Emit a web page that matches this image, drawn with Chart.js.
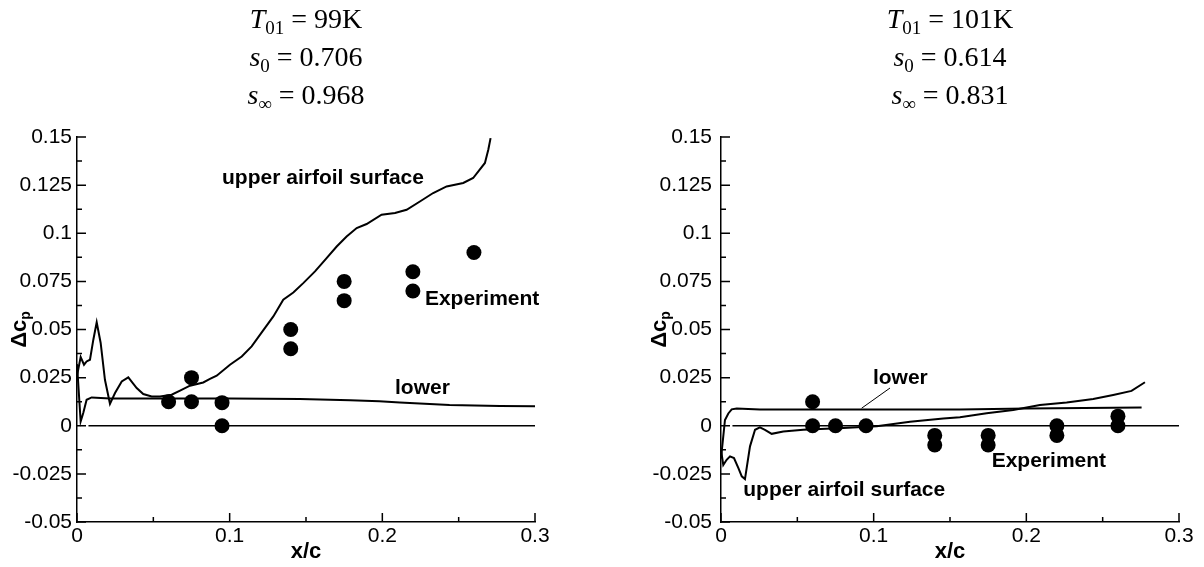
<!DOCTYPE html>
<html>
<head>
<meta charset="utf-8">
<script src="https://cdn.jsdelivr.net/npm/chart.js@4.4.0/dist/chart.umd.min.js"></script>
<style>
  body { margin: 0; background: #fff; width: 1204px; height: 567px; position: relative; overflow: hidden; }
  .panel { position: absolute; top: 0; height: 567px; }
  .head { position: absolute; top: 0; width: 300px; text-align: center; color: #000;
          font-family: "Liberation Serif", "DejaVu Serif", serif; font-size: 28px; line-height: 38px; }
  .head sub { font-size: 19px; vertical-align: -6px; line-height: 0; }
</style>
</head>
<body>
<div class="panel" style="left:0;width:640px">
  <canvas id="left" width="640" height="567"></canvas>
  <div class="head" id="headLeft" style="left:156px"></div>
</div>
<div class="panel" style="left:640px;width:564px">
  <canvas id="right" width="564" height="567"></canvas>
  <div class="head" id="headRight" style="left:160px"></div>
</div>
<script>
// axes
const xTicks = [0, 0.1, 0.2, 0.3];
const xTickLabels = ["0", "0.1", "0.2", "0.3"];
const yTicks = [-0.05, -0.025, 0, 0.025, 0.05, 0.075, 0.1, 0.125, 0.15];
const yTickLabels = ["-0.05", "-0.025", "0", "0.025", "0.05", "0.075", "0.1", "0.125", "0.15"];

// headers
const leftHeader = ["99K", "0.706", "0.968"];
const rightHeader = ["101K", "0.614", "0.831"];

// left panel (T01 = 99K)
const leftUpperX = [0, 0.0024, 0.0046, 0.0063, 0.0085, 0.0107, 0.0129, 0.0155, 0.0183, 0.0216, 0.0249, 0.0293,
  0.0336, 0.0391, 0.0434, 0.0489, 0.0544, 0.062, 0.0675, 0.074, 0.0827, 0.0871, 0.0915, 0.1002, 0.1079, 0.1144,
  0.121, 0.1286, 0.1351, 0.1417, 0.1482, 0.1559, 0.1635, 0.1701, 0.1766, 0.1832, 0.1897, 0.1995, 0.2083, 0.2159,
  0.2246, 0.2333, 0.2421, 0.253, 0.2595, 0.2672, 0.2694, 0.2709];
const leftUpperY = [0.026, 0.0357, 0.0317, 0.0334, 0.0343, 0.0447, 0.0537, 0.043, 0.0239, 0.0114, 0.017, 0.023,
  0.0251, 0.0196, 0.0165, 0.0152, 0.0152, 0.0161, 0.0183, 0.0208, 0.0225, 0.0243, 0.026, 0.0317, 0.036, 0.0412,
  0.0485, 0.0568, 0.0655, 0.0692, 0.0741, 0.0802, 0.0871, 0.0931, 0.0983, 0.1027, 0.1048, 0.1096, 0.1105, 0.1122,
  0.1165, 0.1209, 0.1243, 0.1261, 0.1287, 0.1365, 0.1434, 0.1494];
const leftLowerX = [0, 0.0024, 0.0041, 0.0063, 0.0096, 0.0216, 0.06, 0.1, 0.146, 0.179, 0.198, 0.2115, 0.244, 0.277, 0.3];
const leftLowerY = [0.032, 0.0022, 0.0066, 0.0135, 0.0147, 0.0142, 0.0142, 0.0141, 0.0139, 0.0132, 0.0127, 0.0121, 0.0108, 0.0102, 0.0101];
const leftExpX = [0.06, 0.075, 0.075, 0.095, 0.095, 0.14, 0.14, 0.175, 0.175, 0.22, 0.22, 0.26];
const leftExpY = [0.0125, 0.025, 0.0125, 0.012, 0, 0.05, 0.04, 0.075, 0.065, 0.08, 0.07, 0.09];

// right panel (T01 = 101K)
const rightUpperX = [0, 0.0015, 0.0037, 0.0059, 0.0085, 0.0114, 0.0136, 0.0157, 0.019, 0.0223, 0.0255, 0.0288,
  0.0332, 0.0408, 0.0539, 0.0801, 0.102, 0.1238, 0.1456, 0.1565, 0.174, 0.1914, 0.2089, 0.2264, 0.2438, 0.2569,
  0.2689, 0.2777];
const rightUpperY = [-0.0125, -0.0204, -0.0177, -0.0159, -0.0168, -0.022, -0.0263, -0.0277, -0.0107, -0.0021,
  -0.0008, -0.0021, -0.0042, -0.003, -0.0021, -0.0012, -0.0003, 0.0021, 0.0038, 0.0044, 0.0065, 0.0082, 0.0108,
  0.0121, 0.0139, 0.016, 0.0181, 0.0226];
const rightLowerX = [0, 0.0026, 0.0048, 0.007, 0.0103, 0.0255, 0.0583, 0.102, 0.1565, 0.2, 0.2755];
const rightLowerY = [-0.017, 0.003, 0.0064, 0.0085, 0.009, 0.0085, 0.0085, 0.0085, 0.0085, 0.009, 0.0095];
const rightExpX = [0.06, 0.06, 0.075, 0.095, 0.14, 0.14, 0.175, 0.175, 0.22, 0.22, 0.26, 0.26];
const rightExpY = [0.0125, 0, 0, 0, -0.005, -0.01, -0.005, -0.01, 0, -0.005, 0.005, 0];
const rightLeaderX = [0.0921, 0.1107];
const rightLeaderY = [0.0091, 0.0196];

// zero reference line
const zeroX = [0.0075, 0.3];
const zeroY = [0, 0];

const pts = (xs, ys) => xs.map((x, i) => ({ x: x, y: ys[i] }));

function header(el, vals) {
  el.innerHTML =
    '<i>T</i><sub>01</sub> = ' + vals[0] + '<br>' +
    '<i>s</i><sub>0</sub> = ' + vals[1] + '<br>' +
    '<i>s</i><sub>∞</sub> = ' + vals[2];
}
header(document.getElementById("headLeft"), leftHeader);
header(document.getElementById("headRight"), rightHeader);

const decor = {
  id: "decor",
  afterDraw(chart, args, opts) {
    const { ctx, chartArea: a, scales: { x, y } } = chart;
    ctx.save();
    ctx.strokeStyle = "#000";
    ctx.lineWidth = 1.5;
    ctx.beginPath();
    for (let i = 0; i <= 6; i++) {
      const px = x.getPixelForValue(i * 0.05);
      const len = i % 2 === 0 ? 9 : 5;
      ctx.moveTo(px, a.bottom);
      ctx.lineTo(px, a.bottom - len);
    }
    for (let i = 0; i <= 16; i++) {
      const py = y.getPixelForValue(-0.05 + i * 0.0125);
      const len = i % 2 === 0 ? 9 : 5;
      ctx.moveTo(a.left, py);
      ctx.lineTo(a.left + len, py);
    }
    ctx.stroke();

    // annotations
    ctx.fillStyle = "#000";
    ctx.textBaseline = "middle";
    ctx.textAlign = "left";
    ctx.font = "bold 21px 'Liberation Sans', Arial, sans-serif";
    opts.notes.forEach(n => {
      ctx.fillText(n.text, x.getPixelForValue(n.x), y.getPixelForValue(n.y));
    });

    // x title
    ctx.textAlign = "center";
    ctx.font = "bold 22px 'Liberation Sans', Arial, sans-serif";
    ctx.fillText("x/c", (a.left + a.right) / 2, 552);

    // y title: Δc with subscript p
    ctx.translate(20, (a.top + a.bottom) / 2);
    ctx.rotate(-Math.PI / 2);
    ctx.textAlign = "left";
    ctx.font = "bold 22px 'Liberation Sans', Arial, sans-serif";
    const w1 = ctx.measureText("Δc").width;
    ctx.font = "bold 14px 'Liberation Sans', Arial, sans-serif";
    const w2 = ctx.measureText("p").width;
    const start = -(w1 + w2) / 2;
    ctx.font = "bold 22px 'Liberation Sans', Arial, sans-serif";
    ctx.fillText("Δc", start, 0);
    ctx.font = "bold 14px 'Liberation Sans', Arial, sans-serif";
    ctx.fillText("p", start + w1, 6);
    ctx.restore();
  }
};

function makeChart(id, datasets, notes, padRight, axisLeft, labelGap) {
  return new Chart(document.getElementById(id), {
    type: "scatter",
    data: { datasets: datasets },
    options: {
      responsive: false,
      animation: false,
      layout: { padding: { top: 137, right: padRight, left: 0, bottom: 0 } },
      plugins: { legend: { display: false }, tooltip: { enabled: false }, decor: { notes: notes } },
      scales: {
        x: {
          type: "linear", min: 0, max: 0.3,
          afterBuildTicks: s => { s.ticks = xTicks.map(v => ({ value: v })); },
          afterFit: s => { s.height = 45; },
          ticks: { callback: (v, i) => xTickLabels[i], color: "#000", padding: 2, maxRotation: 0, autoSkip: false,
                   font: { family: "'Liberation Sans', Arial, sans-serif", size: 21 } },
          grid: { display: false, drawTicks: false },
          border: { color: "#000", width: 1.5 }
        },
        y: {
          type: "linear", min: -0.05, max: 0.15,
          afterBuildTicks: s => { s.ticks = yTicks.map(v => ({ value: v })); },
          afterFit: s => { s.width = axisLeft; },
          ticks: { callback: (v, i) => yTickLabels[i], color: "#000", padding: labelGap, autoSkip: false,
                   font: { family: "'Liberation Sans', Arial, sans-serif", size: 21 } },
          grid: { display: false, drawTicks: false },
          border: { color: "#000", width: 1.5 }
        }
      }
    },
    plugins: [decor]
  });
}

const lineStyle = { showLine: true, pointRadius: 0, borderColor: "#000", borderWidth: 2, fill: false };
const dotStyle = { showLine: false, pointRadius: 7.5, pointBackgroundColor: "#000", pointBorderWidth: 0 };

makeChart("left", [
  Object.assign({ label: "zero", data: pts(zeroX, zeroY) }, lineStyle, { borderWidth: 1.5 }),
  Object.assign({ label: "upper airfoil surface", data: pts(leftUpperX, leftUpperY) }, lineStyle),
  Object.assign({ label: "lower", data: pts(leftLowerX, leftLowerY) }, lineStyle),
  Object.assign({ label: "Experiment", data: pts(leftExpX, leftExpY) }, dotStyle)
], [
  { text: "upper airfoil surface", x: 0.095, y: 0.1288 },
  { text: "Experiment", x: 0.2279, y: 0.0655 },
  { text: "lower", x: 0.2083, y: 0.0197 }
], 105, 77, 5);

makeChart("right", [
  Object.assign({ label: "zero", data: pts(zeroX, zeroY) }, lineStyle, { borderWidth: 1.5 }),
  Object.assign({ label: "upper airfoil surface", data: pts(rightUpperX, rightUpperY) }, lineStyle),
  Object.assign({ label: "lower", data: pts(rightLowerX, rightLowerY) }, lineStyle),
  Object.assign({ label: "leader", data: pts(rightLeaderX, rightLeaderY) }, lineStyle, { borderWidth: 1 }),
  Object.assign({ label: "Experiment", data: pts(rightExpX, rightExpY) }, dotStyle)
], [
  { text: "lower", x: 0.0995, y: 0.0248 },
  { text: "Experiment", x: 0.1773, y: -0.0186 },
  { text: "upper airfoil surface", x: 0.0146, y: -0.0334 }
], 25, 81, 9);
</script>
</body>
</html>
